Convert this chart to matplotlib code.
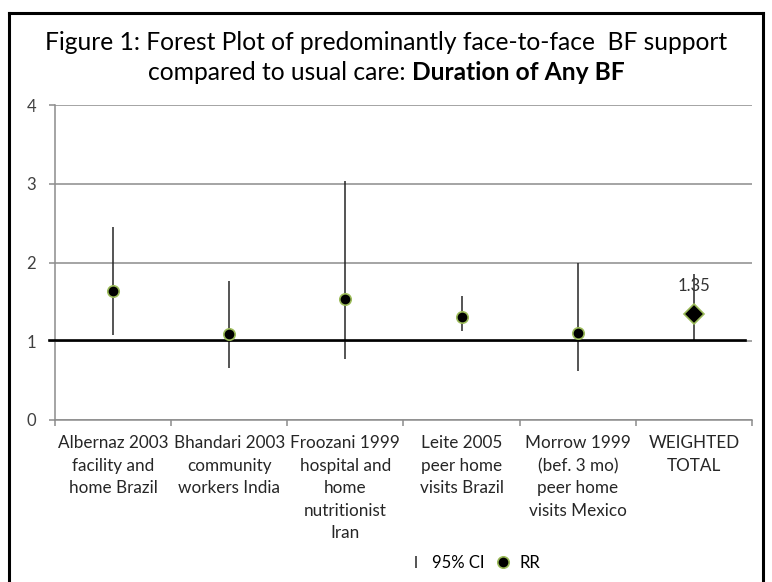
import numpy as np
import matplotlib.pyplot as plt
from matplotlib.lines import Line2D

plt.rcParams['font.family'] = ['Lato', 'DejaVu Sans']

# 数据：各研究的RR及95% CI
studies = ['Albernaz 2003\nfacility and\nhome Brazil',
           'Bhandari 2003\ncommunity\nworkers India',
           'Froozani 1999\nhospital and\nhome\nnutritionist\nIran',
           'Leite 2005\npeer home\nvisits Brazil',
           'Morrow 1999\n(bef. 3 mo)\npeer home\nvisits Mexico',
           'WEIGHTED\nTOTAL']
rr = [1.64, 1.09, 1.54, 1.31, 1.11, 1.35]
ci_low = [1.08, 0.66, 0.77, 1.13, 0.62, 1.00]
ci_high = [2.45, 1.76, 3.04, 1.57, 2.00, 1.86]
total_label = '1.35'

W, H = 772, 582
fig = plt.figure(figsize=(W / 100, H / 100), dpi=100)
ax = fig.add_axes([55 / W, 1 - 420 / H, (752 - 55) / W, (420 - 105) / H])

x = np.arange(len(studies))
grey = '#8c8c8c'
edge = '#9bbb59'

# 网格线
ax.set_ylim(0, 4)
ax.set_xlim(-0.5, len(studies) - 0.5)
ax.set_yticks([0, 1, 2, 3, 4])
ax.yaxis.grid(True, color=grey, linewidth=1.1)
ax.set_axisbelow(True)

# 置信区间竖线
ax.vlines(x, ci_low, ci_high, color='#262626', linewidth=1.1, zorder=3)

# RR=1 参考线
ax.axhline(1.02, xmin=-0.0086, xmax=0.99, color='black', linewidth=1.9,
           clip_on=False, zorder=4)

# 各研究的点 + 合并结果菱形
ax.plot(x[:-1], rr[:-1], linestyle='none', marker='o', markersize=8.2,
        markerfacecolor='black', markeredgecolor=edge, markeredgewidth=1.2, zorder=5)
ax.plot(x[-1:], rr[-1:], linestyle='none', marker='D', markersize=10.5,
        markerfacecolor='black', markeredgecolor=edge, markeredgewidth=1.2, zorder=5)
ax.annotate(total_label, (x[-1], rr[-1]), xytext=(0, 20), textcoords='offset points',
            ha='center', va='center', fontsize=12, color='#333333', zorder=6)

# 坐标轴样式
for s in ['top', 'right']:
    ax.spines[s].set_visible(False)
ax.spines['left'].set_color(grey)
ax.spines['bottom'].set_color(grey)
ax.spines['left'].set_linewidth(1.1)
ax.spines['bottom'].set_linewidth(1.1)
ax.tick_params(axis='y', length=4.5, color=grey, width=1.1, labelsize=12,
               labelcolor='#404040', pad=9)
ax.set_xticks(x)
ax.set_xticklabels(studies, fontsize=12.3, color='#262626', linespacing=1.5)
ax.set_xticks(np.arange(-0.5, len(studies)), minor=True)
ax.tick_params(axis='x', which='major', length=0, pad=11)
ax.tick_params(axis='x', which='minor', length=4.5, color=grey, width=1.1)

# 标题
fs_title = 17.7
fig.text(0.5, 1 - 42 / H, 'Figure 1: Forest Plot of predominantly face-to-face  BF support',
         ha='center', va='center', fontsize=fs_title)
t2a = fig.text(0.5, 1 - 73 / H, 'compared to usual care: ', ha='right', va='center',
               fontsize=fs_title)
fig.canvas.draw()
bb1 = t2a.get_window_extent()
t2b = fig.text(0.5, 1 - 73 / H, 'Duration of Any BF', ha='left', va='center',
               fontsize=fs_title, fontweight='bold')
bb2 = t2b.get_window_extent()
shift = (bb1.width + bb2.width) / 2 - bb1.width
t2a.set_x(0.5 - shift / W)
t2b.set_x(0.5 - shift / W)

# 图例
handles = [Line2D([], [], linestyle='none', marker='|', markersize=9, color='#262626',
                  markeredgewidth=1.1),
           Line2D([], [], linestyle='none', marker='o', markersize=8.2,
                  markerfacecolor='black', markeredgecolor=edge, markeredgewidth=1.2)]
fig.legend(handles, ['95% CI', 'RR'], loc='center', bbox_to_anchor=(474 / W, 1 - 563 / H),
           ncol=2, frameon=False, fontsize=12, handlelength=1.0, handletextpad=0.5,
           columnspacing=0.6)

# 外框
lw = 2.2
fig.add_artist(Line2D([9 / W, 9 / W], [0, 1 - 13 / H], color='black', linewidth=lw))
fig.add_artist(Line2D([9 / W, 763 / W], [1 - 13 / H, 1 - 13 / H], color='black', linewidth=lw))
fig.add_artist(Line2D([763 / W, 763 / W], [0, 1 - 13 / H], color='black', linewidth=lw))

fig.savefig('out.png', dpi=100)
